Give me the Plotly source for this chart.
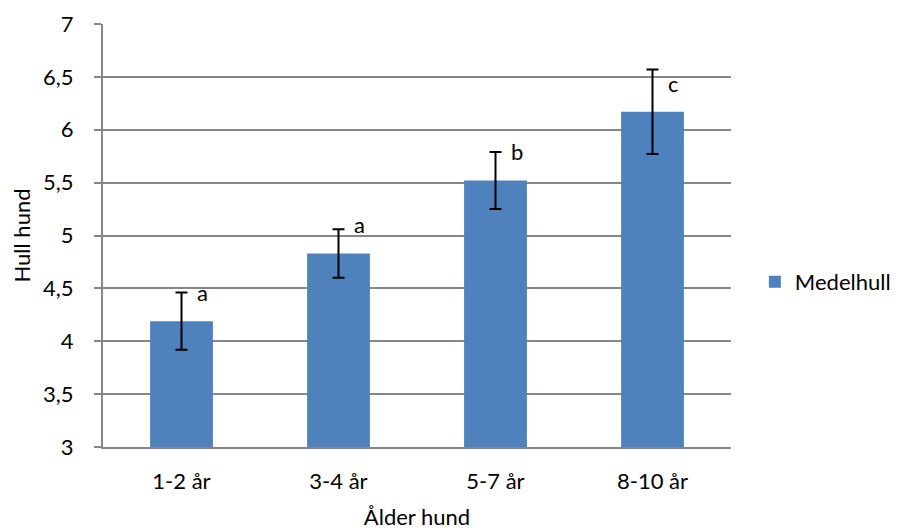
import plotly.graph_objects as go

categories = ["1-2 år", "3-4 år", "5-7 år", "8-10 år"]
values = [4.19, 4.83, 5.52, 6.17]
errors = [0.27, 0.23, 0.27, 0.40]
letters = ["a", "a", "b", "c"]
letter_y = [4.43, 5.08, 5.77, 6.41]
y_ticks = [3, 3.5, 4, 4.5, 5, 5.5, 6, 6.5, 7]
y_tick_text = ["3", "3,5", "4", "4,5", "5", "5,5", "6", "6,5", "7"]

FONT = "Lato, Open Sans, sans-serif"
FS = 22

fig = go.Figure()
fig.add_trace(go.Bar(
    x=categories, y=values, name="Medelhull",
    marker=dict(color="#4F81BD", line=dict(width=0)),
    error_y=dict(type="data", array=errors, visible=True,
                 color="black", thickness=2, width=6),
))

for c, t, yy in zip(categories, letters, letter_y):
    fig.add_annotation(x=c, y=yy, text=t, showarrow=False, xshift=21, yshift=3,
                       font=dict(size=FS, color="black", family=FONT))

fig.update_layout(
    width=897, height=523,
    margin=dict(l=95, r=174, t=16, b=84, autoexpand=False),
    paper_bgcolor="white", plot_bgcolor="white",
    font=dict(family=FONT, size=FS, color="black"),
    bargap=0.6,
    showlegend=True,
    legend=dict(x=1.038, y=0.39, xanchor="left", yanchor="middle",
                font=dict(size=FS), itemwidth=30),
    xaxis=dict(
        showline=True, linecolor="#868686", linewidth=2,
        ticks="", showgrid=False, ticklabelstandoff=14,
        title=dict(text="Ålder hund", font=dict(size=FS), standoff=16),
    ),
    yaxis=dict(
        range=[3, 7], tickvals=y_ticks, ticktext=y_tick_text,
        showline=True, linecolor="#868686", linewidth=2,
        ticks="outside", ticklen=7, tickcolor="#868686", tickwidth=2,
        ticklabelstandoff=16,
        showgrid=True, gridcolor="#868686", gridwidth=2,
        zeroline=False,
        title=dict(text="Hull hund", font=dict(size=FS), standoff=14),
    ),
)

fig.write_html("out.html")
